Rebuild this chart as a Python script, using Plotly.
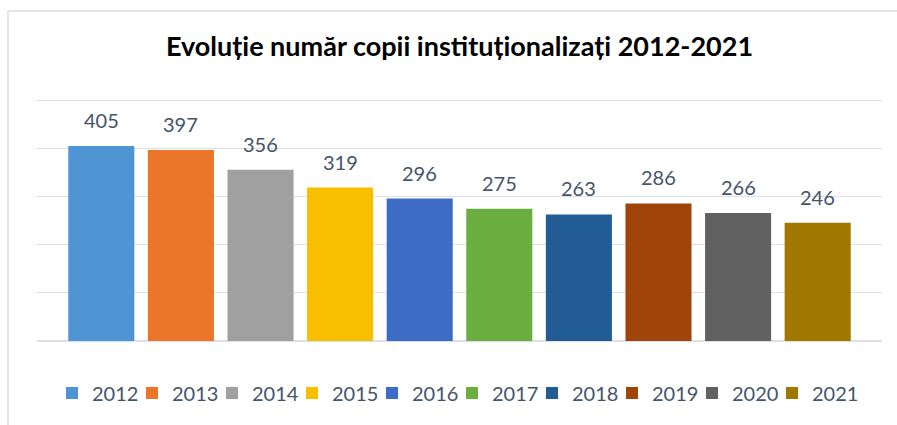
import plotly.graph_objects as go

years = ["2012", "2013", "2014", "2015", "2016", "2017", "2018", "2019", "2020", "2021"]
values = [405, 397, 356, 319, 296, 275, 263, 286, 266, 246]
colors = ["#4F94D3", "#EB7529", "#A0A0A0", "#F7BF00", "#3D6CC4",
          "#6BAE40", "#215D94", "#A0450A", "#616161", "#A07800"]

title_text = "Evoluție număr copii instituționalizați 2012-2021"
label_color = "#44546A"
font_family = "Lato, 'Open Sans', sans-serif"

fig = go.Figure()
for i, (yr, v, c) in enumerate(zip(years, values, colors)):
    last = i == len(years) - 1
    fig.add_trace(go.Bar(x=[yr], y=[v], name=yr, marker=dict(color=c, line=dict(width=0)),
                         hoverinfo="skip", legendwidth=52 if last else 35))

for i, v in enumerate(values):
    fig.add_annotation(x=i, y=v, text=str(v), showarrow=False, yanchor="bottom",
                       yshift=12, font=dict(size=20, color=label_color, family=font_family))

# plot area: x 37..882, y 98..341
pl, pr, pt, pb = 37, 15, 98, 84
W, H = 897, 425
pw, ph = W - pl - pr, H - pt - pb

def px_to_paper_x(px):
    return (px - pl) / pw

def px_to_paper_y(py):
    return (H - pb - py) / ph

# chart container border (partially cropped): top and left edges
border = dict(color="#D9DEE4", width=1.5)
bx, by = px_to_paper_x(8), px_to_paper_y(11)
fig.add_shape(type="line", xref="paper", yref="paper", x0=bx, x1=1.2, y0=by, y1=by,
              line=border, layer="below")
fig.add_shape(type="line", xref="paper", yref="paper", x0=bx, x1=bx, y0=-0.6, y1=by,
              line=border, layer="below")

n = len(years)
d = 0.308
fig.update_layout(
    width=W, height=H,
    margin=dict(l=pl, r=pr, t=pt, b=pb, autoexpand=False),
    paper_bgcolor="white", plot_bgcolor="white",
    barmode="relative", bargap=0.17,
    title=dict(text=f"<b>{title_text}</b>", x=0.5, xref="paper", xanchor="center",
               y=1 - 47 / H, yref="container", yanchor="middle",
               font=dict(size=27, color="black", family=font_family)),
    xaxis=dict(type="category", categoryarray=years, categoryorder="array",
               range=[-0.5 - d, n - 0.5 + d], showticklabels=False,
               showgrid=False, zeroline=False, showline=False, ticks=""),
    yaxis=dict(range=[0, 505], tickvals=[100, 200, 300, 400, 500], showticklabels=False,
               showgrid=True, gridcolor="#DCE1E7", gridwidth=1, zeroline=True,
               zerolinecolor="#DCE1E7", zerolinewidth=1.5, ticks=""),
    legend=dict(orientation="h", x=px_to_paper_x(52), xanchor="left", y=px_to_paper_y(393),
                yanchor="middle",
                font=dict(size=20, color=label_color, family=font_family),
                entrywidth=35, entrywidthmode="pixels",
                itemclick=False, itemdoubleclick=False, traceorder="normal"),
    showlegend=True,
    font=dict(family=font_family),
)

fig.write_html("out.html", config={"displayModeBar": False},
               post_script="document.body.style.margin='0';document.body.style.overflow='hidden';")
